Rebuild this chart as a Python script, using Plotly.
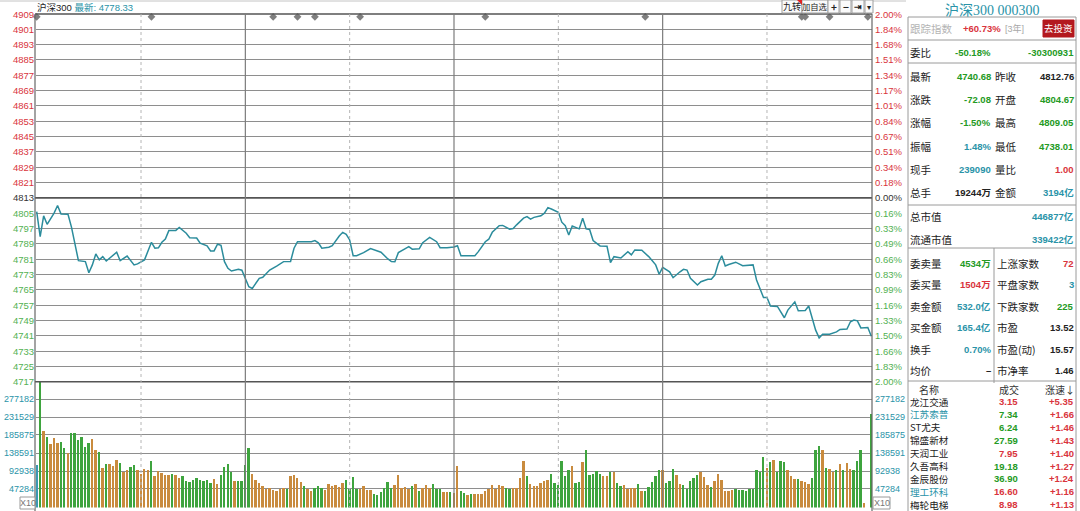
import plotly.graph_objects as go

W, H = 1080, 511

# ================= DATA =================
PRICE_TICKS = [4909, 4901, 4893, 4885, 4877, 4869, 4861, 4853, 4845, 4837, 4829, 4821, 4813,
               4805, 4797, 4789, 4781, 4773, 4765, 4757, 4749, 4741, 4733, 4725, 4717]
PCT_LABELS = ["2.00%", "1.84%", "1.68%", "1.51%", "1.34%", "1.17%", "1.01%", "0.84%", "0.67%",
              "0.51%", "0.34%", "0.18%", "0.00%", "0.16%", "0.33%", "0.49%", "0.66%", "0.83%",
              "0.99%", "1.16%", "1.33%", "1.50%", "1.66%", "1.83%", "2.00%"]
MID_PRICE = 4813
VOL_TICKS = [277182, 231529, 185875, 138591, 92938, 47284]

# minute index (0..240) and price
PRICE_MIN = [0, 1, 2, 3, 5, 6, 7, 9, 10, 12, 14, 15, 16, 17, 18, 19, 20, 23, 24, 26, 28, 29, 31,
             33, 34, 35, 36, 37, 38, 40, 41, 43, 44, 46, 47, 49, 50, 51, 52, 53, 54, 55, 56, 58,
             59, 60, 61, 62, 63, 64, 65, 67, 69, 71, 73, 74, 75, 79, 80, 81, 82, 84, 85, 86, 87,
             88, 89, 90, 91, 92, 94, 96, 98, 99, 101, 102, 103, 104, 106, 107, 108, 110, 111, 113,
             115, 116, 118, 120, 121, 122, 124, 126, 127, 129, 130, 131, 133, 134, 136, 137, 138,
             140, 141, 142, 143, 145, 146, 147, 148, 150, 151, 152, 153, 154, 156, 157, 158, 159,
             160, 162, 164, 165, 166, 168, 170, 171, 172, 174, 176, 178, 179, 180, 182, 183, 185,
             186, 187, 188, 190, 191, 193, 194, 195, 196, 197, 198, 199, 201, 203, 205, 206, 207,
             208, 209, 210, 211, 213, 215, 216, 218, 219, 221, 222, 223, 224, 225, 226, 228, 230,
             231, 233, 234, 235, 236, 237, 239, 240]
PRICE_VAL = [4805.8, 4792.7, 4803.6, 4799.2, 4805.0, 4809.0, 4804.6, 4804.4, 4797.7, 4780.2,
             4779.7, 4773.9, 4778.0, 4783.7, 4780.6, 4782.3, 4780.0, 4784.6, 4780.2, 4782.6,
             4778.0, 4778.5, 4780.6, 4789.8, 4786.7, 4786.9, 4789.8, 4791.5, 4795.9, 4796.0,
             4797.5, 4794.5, 4792.2, 4792.0, 4789.3, 4787.9, 4785.3, 4785.3, 4788.8, 4788.2,
             4779.7, 4776.2, 4774.8, 4775.7, 4775.2, 4770.5, 4766.6, 4765.7, 4768.4, 4771.0,
             4771.5, 4775.3, 4777.4, 4779.7, 4779.8, 4786.7, 4790.1, 4790.1, 4790.7, 4789.5,
             4786.7, 4787.2, 4788.0, 4790.7, 4793.1, 4795.0, 4794.0, 4791.0, 4782.8, 4782.8,
             4784.4, 4786.5, 4785.3, 4784.6, 4781.1, 4779.7, 4779.6, 4784.4, 4786.5, 4787.5,
             4786.2, 4786.4, 4789.6, 4792.4, 4790.1, 4787.0, 4787.0, 4787.3, 4788.0, 4782.8,
             4782.8, 4782.8, 4784.9, 4790.1, 4791.4, 4795.0, 4798.5, 4798.6, 4796.6, 4797.0,
             4798.9, 4802.4, 4803.2, 4801.9, 4802.8, 4803.6, 4805.0, 4807.9, 4807.2, 4805.5,
             4800.3, 4798.5, 4793.6, 4798.3, 4796.8, 4802.4, 4796.8, 4796.5, 4790.7, 4787.9,
             4787.7, 4779.2, 4782.3, 4781.6, 4784.9, 4783.2, 4785.8, 4785.6, 4782.3, 4778.0,
             4773.1, 4776.7, 4774.4, 4771.3, 4774.4, 4775.7, 4775.3, 4771.0, 4767.5, 4769.2,
             4770.5, 4770.5, 4772.7, 4778.8, 4782.8, 4777.4, 4778.2, 4779.4, 4777.6, 4778.0,
             4778.0, 4770.1, 4765.7, 4761.0, 4761.0, 4756.5, 4756.3, 4750.4, 4754.4, 4758.7,
             4754.0, 4754.2, 4756.5, 4750.0, 4743.9, 4739.9, 4741.8, 4741.8, 4743.0, 4744.3,
             4744.5, 4748.3, 4749.2, 4748.8, 4745.1, 4745.3, 4740.7]

# one bar per minute, 0..240
VOLUME = [109800, 330000, 196800, 181600, 163000, 178300, 167100, 169700, 151900, 141000,
          191000, 191000, 174000, 181600, 156200, 166400, 175700, 148600, 143500, 102200,
          111300, 111300, 106300, 122500, 115600, 92100, 97900, 105500, 110600, 97100,
          87700, 99600, 97100, 120700, 80100, 95300, 89500, 82700, 84500, 87000,
          82700, 76800, 81000, 67500, 65700, 70000, 76000, 70000, 68000, 70000,
          63200, 74300, 61600, 84500, 105500, 112300, 92800, 68000, 68000, 68000,
          109800, 152900, 85200, 70000, 64200, 55500, 48900, 51400, 44600, 42000,
          47100, 49600, 47200, 80100, 82700, 76800, 64900, 54800, 48000, 42900,
          50500, 54800, 50500, 44600, 59800, 54800, 57300, 53100, 64200, 70000,
          48000, 78400, 48900, 48900, 54800, 44600, 45500, 34500, 33600, 39500,
          51400, 64900, 51400, 59000, 82700, 51400, 53100, 47200, 54800, 59800,
          42200, 50500, 59000, 50500, 59800, 47200, 47200, 41300, 41300, 40500,
          38800, 108000, 42200, 37900, 32000, 36200, 36200, 36200, 36200, 42200,
          47200, 57300, 48900, 57300, 54800, 51400, 47200, 51400, 51400, 76800,
          120700, 80900, 61600, 54800, 55700, 63200, 68200, 71800, 85200, 63200,
          57300, 119000, 81900, 95400, 108000, 63900, 64900, 116400, 147800, 84400,
          86900, 93600, 85200, 80100, 80900, 91000, 91000, 64200, 54800, 57300,
          47200, 50500, 50500, 61600, 42200, 42200, 53100, 65700, 80900, 97100,
          95400, 63200, 68200, 99700, 84400, 59800, 59000, 47200, 67500, 75900,
          82700, 92800, 78400, 59000, 53100, 67500, 85200, 71800, 42200, 42200,
          46400, 47200, 46400, 44600, 42200, 47200, 47200, 95400, 91000, 129100,
          102200, 116400, 122500, 92800, 120700, 118200, 95400, 80100, 73300, 72500,
          67500, 65700, 59800, 75800, 147800, 158700, 147800, 102200, 99700, 92800,
          95400, 112300, 97100, 113900, 99700, 97100, 120700, 147800, 10900, 0,
          239100]
# g = down (green), o = up (orange), t = flat
VOL_DIR = ("tgogoooggo" "ggggggoogo" "gooogooggo" "ooogooooog" "oogggggggg"
           "googgggogg" "ggoooooooo" "oogoooogoo" "gggoooooog" "gggooooggg"
           "gggooooogo" "gooogggoog" "ooggogoooo" "oooooggooo" "ogoooooogg"
           "ggggoggogg" "gggoogoggo" "ooogoggggg" "ogggoogggg" "gooogooooo"
           "oggggggggg" "ogogggooog" "ooogggogoo" "gogoogggoo" "g")

EVENT_MIN = [0, 33, 68, 75, 80, 93, 129, 175, 220, 221, 228, 239]

HEADER_NAME = "沪深300"
HEADER_LAST = "4778.33"

TITLE = "沪深300 000300"
TRACK = ("跟踪指数", "+60.73%", "[3年]", "去投资")
WEIBI = ("委比", "-50.18%", "-30300931")
QUOTE_ROWS = [
    ("最新", "4740.68", "g", "昨收", "4812.76", "k"),
    ("涨跌", "-72.08", "g", "开盘", "4804.67", "g"),
    ("涨幅", "-1.50%", "g", "最高", "4809.05", "g"),
    ("振幅", "1.48%", "t", "最低", "4738.01", "g"),
    ("现手", "239090", "t", "量比", "1.00", "r"),
    ("总手", "19244万", "k", "金额", "3194亿", "t"),
]
CAP_ROWS = [("总市值", "446877亿"), ("流通市值", "339422亿")]
BOOK_ROWS = [
    ("委卖量", "4534万", "g", "上涨家数", "72", "r"),
    ("委买量", "1504万", "r", "平盘家数", "3", "t"),
    ("卖金额", "532.0亿", "t", "下跌家数", "225", "g"),
    ("买金额", "165.4亿", "t", "市盈", "13.52", "k"),
    ("换手", "0.70%", "t", "市盈(动)", "15.57", "k"),
    ("均价", "–", "k", "市净率", "1.46", "k"),
]
LIST_HEAD = ["名称", "成交", "涨速↓"]
STOCK_NAMES = ["龙江交通", "江苏索普", "ST尤夫", "锦盛新材", "天润工业", "久吾高科", "金辰股份", "理工环科", "梅轮电梯"]
STOCK_NAME_C = ["k", "t", "k", "k", "k", "k", "k", "t", "k"]
STOCK_PRICES = ["3.15", "7.34", "6.24", "27.59", "7.95", "19.18", "36.90", "16.60", "8.98"]
STOCK_PRICE_C = ["r", "g", "g", "g", "r", "g", "g", "r", "r"]
STOCK_SPEEDS = ["+5.35", "+1.66", "+1.46", "+1.43", "+1.40", "+1.27", "+1.24", "+1.16", "+1.13"]

# ================= STYLE =================
RED = "#d9343c"
GREEN = "#249a24"
LGREEN = "#52b152"
TEAL = "#2a93a8"
BLACK = "#222222"
GRID = "#8e8e8e"
COL = {"r": RED, "g": GREEN, "t": TEAL, "k": BLACK}
BAR_COL = {"g": "#3ea43e", "o": "#c98b3e", "t": "#3b98b3"}
SANS = "Liberation Sans, Noto Sans CJK SC, sans-serif"
CJK = "Noto Sans CJK SC, sans-serif"

PLOT_L, PLOT_R = 36, 872
P_TOP, P_BOT = 14, 381.7
V_BOT = 507.4


def px(x):
    return x / W


def py(y):
    return 1 - y / H


shapes = []
annotations = []


def text(x, y, s, color=BLACK, size=10, anchor="left", family=SANS, yref="paper"):
    annotations.append(dict(
        x=px(x), y=py(y) if yref == "paper" else y,
        xref="paper", yref=yref, text=s, showarrow=False,
        xanchor=anchor, yanchor="middle", borderpad=0,
        font=dict(color=color, size=size, family=family)))


def line(x0, y0, x1, y1, color=GRID, width=1, dash="solid", xref="paper", yref="paper"):
    shapes.append(dict(
        type="line", xref=xref, yref=yref,
        x0=px(x0) if xref == "paper" else x0, x1=px(x1) if xref == "paper" else x1,
        y0=py(y0) if yref == "paper" else y0, y1=py(y1) if yref == "paper" else y1,
        line=dict(color=color, width=width, dash=dash)))


def rect(x0, y0, x1, y1, fill="white", border="#9a9a9a"):
    shapes.append(dict(type="rect", xref="paper", yref="paper",
                       x0=px(x0), x1=px(x1), y0=py(y1), y1=py(y0),
                       fillcolor=fill, line=dict(color=border, width=1)))


# ================= FIGURE =================
fig = go.Figure()

fig.add_trace(go.Scatter(
    x=PRICE_MIN, y=PRICE_VAL, mode="lines",
    line=dict(color="#2b8c9c", width=1.5),
    xaxis="x", yaxis="y", hoverinfo="skip"))

fig.add_trace(go.Scatter(
    x=EVENT_MIN, y=[PRICE_TICKS[0] - 1.5] * len(EVENT_MIN), mode="markers",
    marker=dict(symbol="diamond", size=6, color="#7f7f7f"),
    xaxis="x", yaxis="y", hoverinfo="skip", cliponaxis=False))

fig.add_trace(go.Bar(
    x=list(range(len(VOLUME))), y=VOLUME,
    marker=dict(color=[BAR_COL[c] for c in VOL_DIR], line=dict(width=0)),
    width=0.55, xaxis="x2", yaxis="y2", hoverinfo="skip"))

# ---- grid / frame ----
line(0, 1, 906, 1, color="#c4c4c4")
line(PLOT_L - 1, P_TOP, PLOT_R, P_TOP, color="#555555", width=1.6)
line(PLOT_L - 1, P_BOT, PLOT_R, P_BOT, color="#555555", width=1.6)
shapes.append(dict(type="line", xref="paper", yref="y", x0=px(PLOT_L - 1), x1=px(PLOT_R),
                   y0=MID_PRICE, y1=MID_PRICE, line=dict(color="#555555", width=1.8)))
line(PLOT_L - 1, P_TOP, PLOT_L - 1, H, color="#666666", width=1.2)
line(PLOT_R, P_TOP, PLOT_R, H, color="#666666", width=1.2)
for m in (60, 120, 180):
    line(m, P_TOP, m, V_BOT, color="#7c7c7c", width=1.2, xref="x")
for m in (30, 90, 150, 210):
    line(m, P_TOP, m, V_BOT, color="#b5b5b5", width=1, dash="dot", xref="x")

# ---- axis labels ----
for v, pct in zip(PRICE_TICKS, PCT_LABELS):
    if v > MID_PRICE:
        c = RED
    elif v == MID_PRICE:
        c = "#333333"
    else:
        c = LGREEN
    text(PLOT_L - 1.5, v, str(v), color=c, size=9.5, anchor="right", yref="y")
    text(PLOT_R + 1.5, v, pct, color=c, size=9.5, anchor="left", yref="y")
for v in VOL_TICKS:
    text(PLOT_L - 1.5, v, str(v), color=TEAL, size=9, anchor="right", yref="y2")
    text(PLOT_R + 1.5, v, str(v), color=TEAL, size=9, anchor="left", yref="y2")
rect(20, 497, 35, 509, fill="white", border="#9a9a9a")
text(27.5, 503, "X10", color="#777777", size=9, anchor="center")
rect(873, 497, 890, 509, fill="white", border="#9a9a9a")
text(881.5, 503, "X10", color="#777777", size=9, anchor="center")

# ---- header ----
text(36, 7, HEADER_NAME + " <span style='color:%s'>最新: %s</span>" % (TEAL, HEADER_LAST),
     color=BLACK, size=9.5)
buttons = [(782, 802, "九转", 9), (802, 828, "加自选", 8.3), (828, 839, "<b>+</b>", 10),
           (840, 851, "<b>−</b>", 10), (852, 864, "<b>⇥</b>", 9), (865, 873, "▾", 8)]
for x0, x1, s, fs in buttons:
    rect(x0, 0, x1, 13, fill="#fafafa", border="#a0a0a0")
    text((x0 + x1) / 2, 6.5, s, color="#222222", size=fs, anchor="center", family=CJK)
shapes.append(dict(type="path", xref="paper", yref="paper",
                   path="M %f %f L %f %f L %f %f Z" % (px(797), py(0), px(802), py(0), px(802), py(5)),
                   fillcolor="#e02020", line=dict(width=0)))

# ---- right panel ----
PX0, PX1, PMID = 908, 1076, 994
text((PX0 + PX1) / 2, 10, TITLE, color=TEAL, size=14, anchor="center",
     family="Liberation Serif, Noto Sans CJK SC, serif")
line(PX0, 17, PX1, 17, color="#9a9a9a")
line(PX0, 17, PX0, H, color="#9a9a9a")
line(PX1, 17, PX1, H, color="#9a9a9a")
for yy in (40, 63, 205, 248, 381):
    line(PX0, yy, PX1, yy, color="#9a9a9a")
line(PMID, 248, PMID, 383, color="#9a9a9a")

text(909, 29, TRACK[0], color="#b4b4b4", size=10.5, family=CJK)
text(1002, 29, "<b>%s</b>" % TRACK[1], color=RED, size=9.5, anchor="right")
text(1003.5, 29, TRACK[2], color="#a8a8a8", size=9)
rect(1043, 20, 1074, 37, fill="#b3191f", border="#b3191f")
text(1058.5, 28.5, TRACK[3], color="white", size=9.5, anchor="center", family=CJK)

text(909, 52, WEIBI[0], color=BLACK, size=10.5, family=CJK)
text(992, 52, "<b>%s</b>" % WEIBI[1], color=GREEN, size=9.5, anchor="right")
text(1075, 52, "<b>%s</b>" % WEIBI[2], color=GREEN, size=9.5, anchor="right")

for i, (l1, v1, c1, l2, v2, c2) in enumerate(QUOTE_ROWS):
    yy = 76 + i * 23.4
    text(909, yy, l1, size=10.5, family=CJK)
    text(992, yy, "<b>%s</b>" % v1, color=COL[c1], size=9.5, anchor="right")
    text(993.5, yy, l2, size=10.5, family=CJK)
    text(1075, yy, "<b>%s</b>" % v2, color=COL[c2], size=9.5, anchor="right")

for i, (l1, v1) in enumerate(CAP_ROWS):
    yy = 217 + i * 22.5
    text(909, yy, l1, size=10.5, family=CJK)
    text(1075, yy, "<b>%s</b>" % v1, color=TEAL, size=9.5, anchor="right")

for i, (l1, v1, c1, l2, v2, c2) in enumerate(BOOK_ROWS):
    yy = 263 + i * 21.5
    text(909, yy, l1, size=10.5, family=CJK)
    text(992, yy, "<b>%s</b>" % v1, color=COL[c1], size=9.5, anchor="right")
    text(995.5, yy, l2, size=10.5, family=CJK)
    text(1075, yy, "<b>%s</b>" % v2, color=COL[c2], size=9.5, anchor="right")

text(929, 389, LIST_HEAD[0], color="#333333", size=10, anchor="center", family=CJK)
text(1009, 389, LIST_HEAD[1], color="#333333", size=10, anchor="center", family=CJK)
text(1076, 389, LIST_HEAD[2], color="#333333", size=10, anchor="right", family=CJK)
for i, name in enumerate(STOCK_NAMES):
    yy = 401.5 + i * 12.9
    text(909, yy, name, color=COL[STOCK_NAME_C[i]], size=9.6, family=CJK)
    text(1019, yy, "<b>%s</b>" % STOCK_PRICES[i], color=COL[STOCK_PRICE_C[i]], size=9.5, anchor="right")
    text(1075, yy, "<b>%s</b>" % STOCK_SPEEDS[i], color=RED, size=9.5, anchor="right")

# ================= LAYOUT =================
fig.update_layout(
    width=W, height=H,
    margin=dict(l=0, r=0, t=0, b=0),
    paper_bgcolor="white", plot_bgcolor="white",
    showlegend=False, bargap=0,
    xaxis=dict(domain=[px(PLOT_L), px(PLOT_R)], range=[-0.2, 240.2], showgrid=False,
               showticklabels=False, zeroline=False, showline=False, fixedrange=True),
    yaxis=dict(domain=[py(P_BOT), py(P_TOP)], range=[PRICE_TICKS[-1], PRICE_TICKS[0]],
               tickvals=PRICE_TICKS, showticklabels=False, showgrid=True, gridcolor=GRID,
               gridwidth=1, zeroline=False, showline=False, ticks=""),
    xaxis2=dict(domain=[px(PLOT_L), px(PLOT_R)], matches="x", anchor="y2", showgrid=False,
                showticklabels=False, zeroline=False, showline=False),
    yaxis2=dict(domain=[py(V_BOT), py(P_BOT)], range=[0, 322300], tickvals=VOL_TICKS,
                showticklabels=False, showgrid=True, gridcolor=GRID, gridwidth=1,
                zeroline=False, showline=False, ticks=""),
    shapes=shapes,
    annotations=annotations,
)

fig.write_html("out.html", config={"displayModeBar": False},
               post_script="document.body.style.margin='0';document.body.style.overflow='hidden';")
